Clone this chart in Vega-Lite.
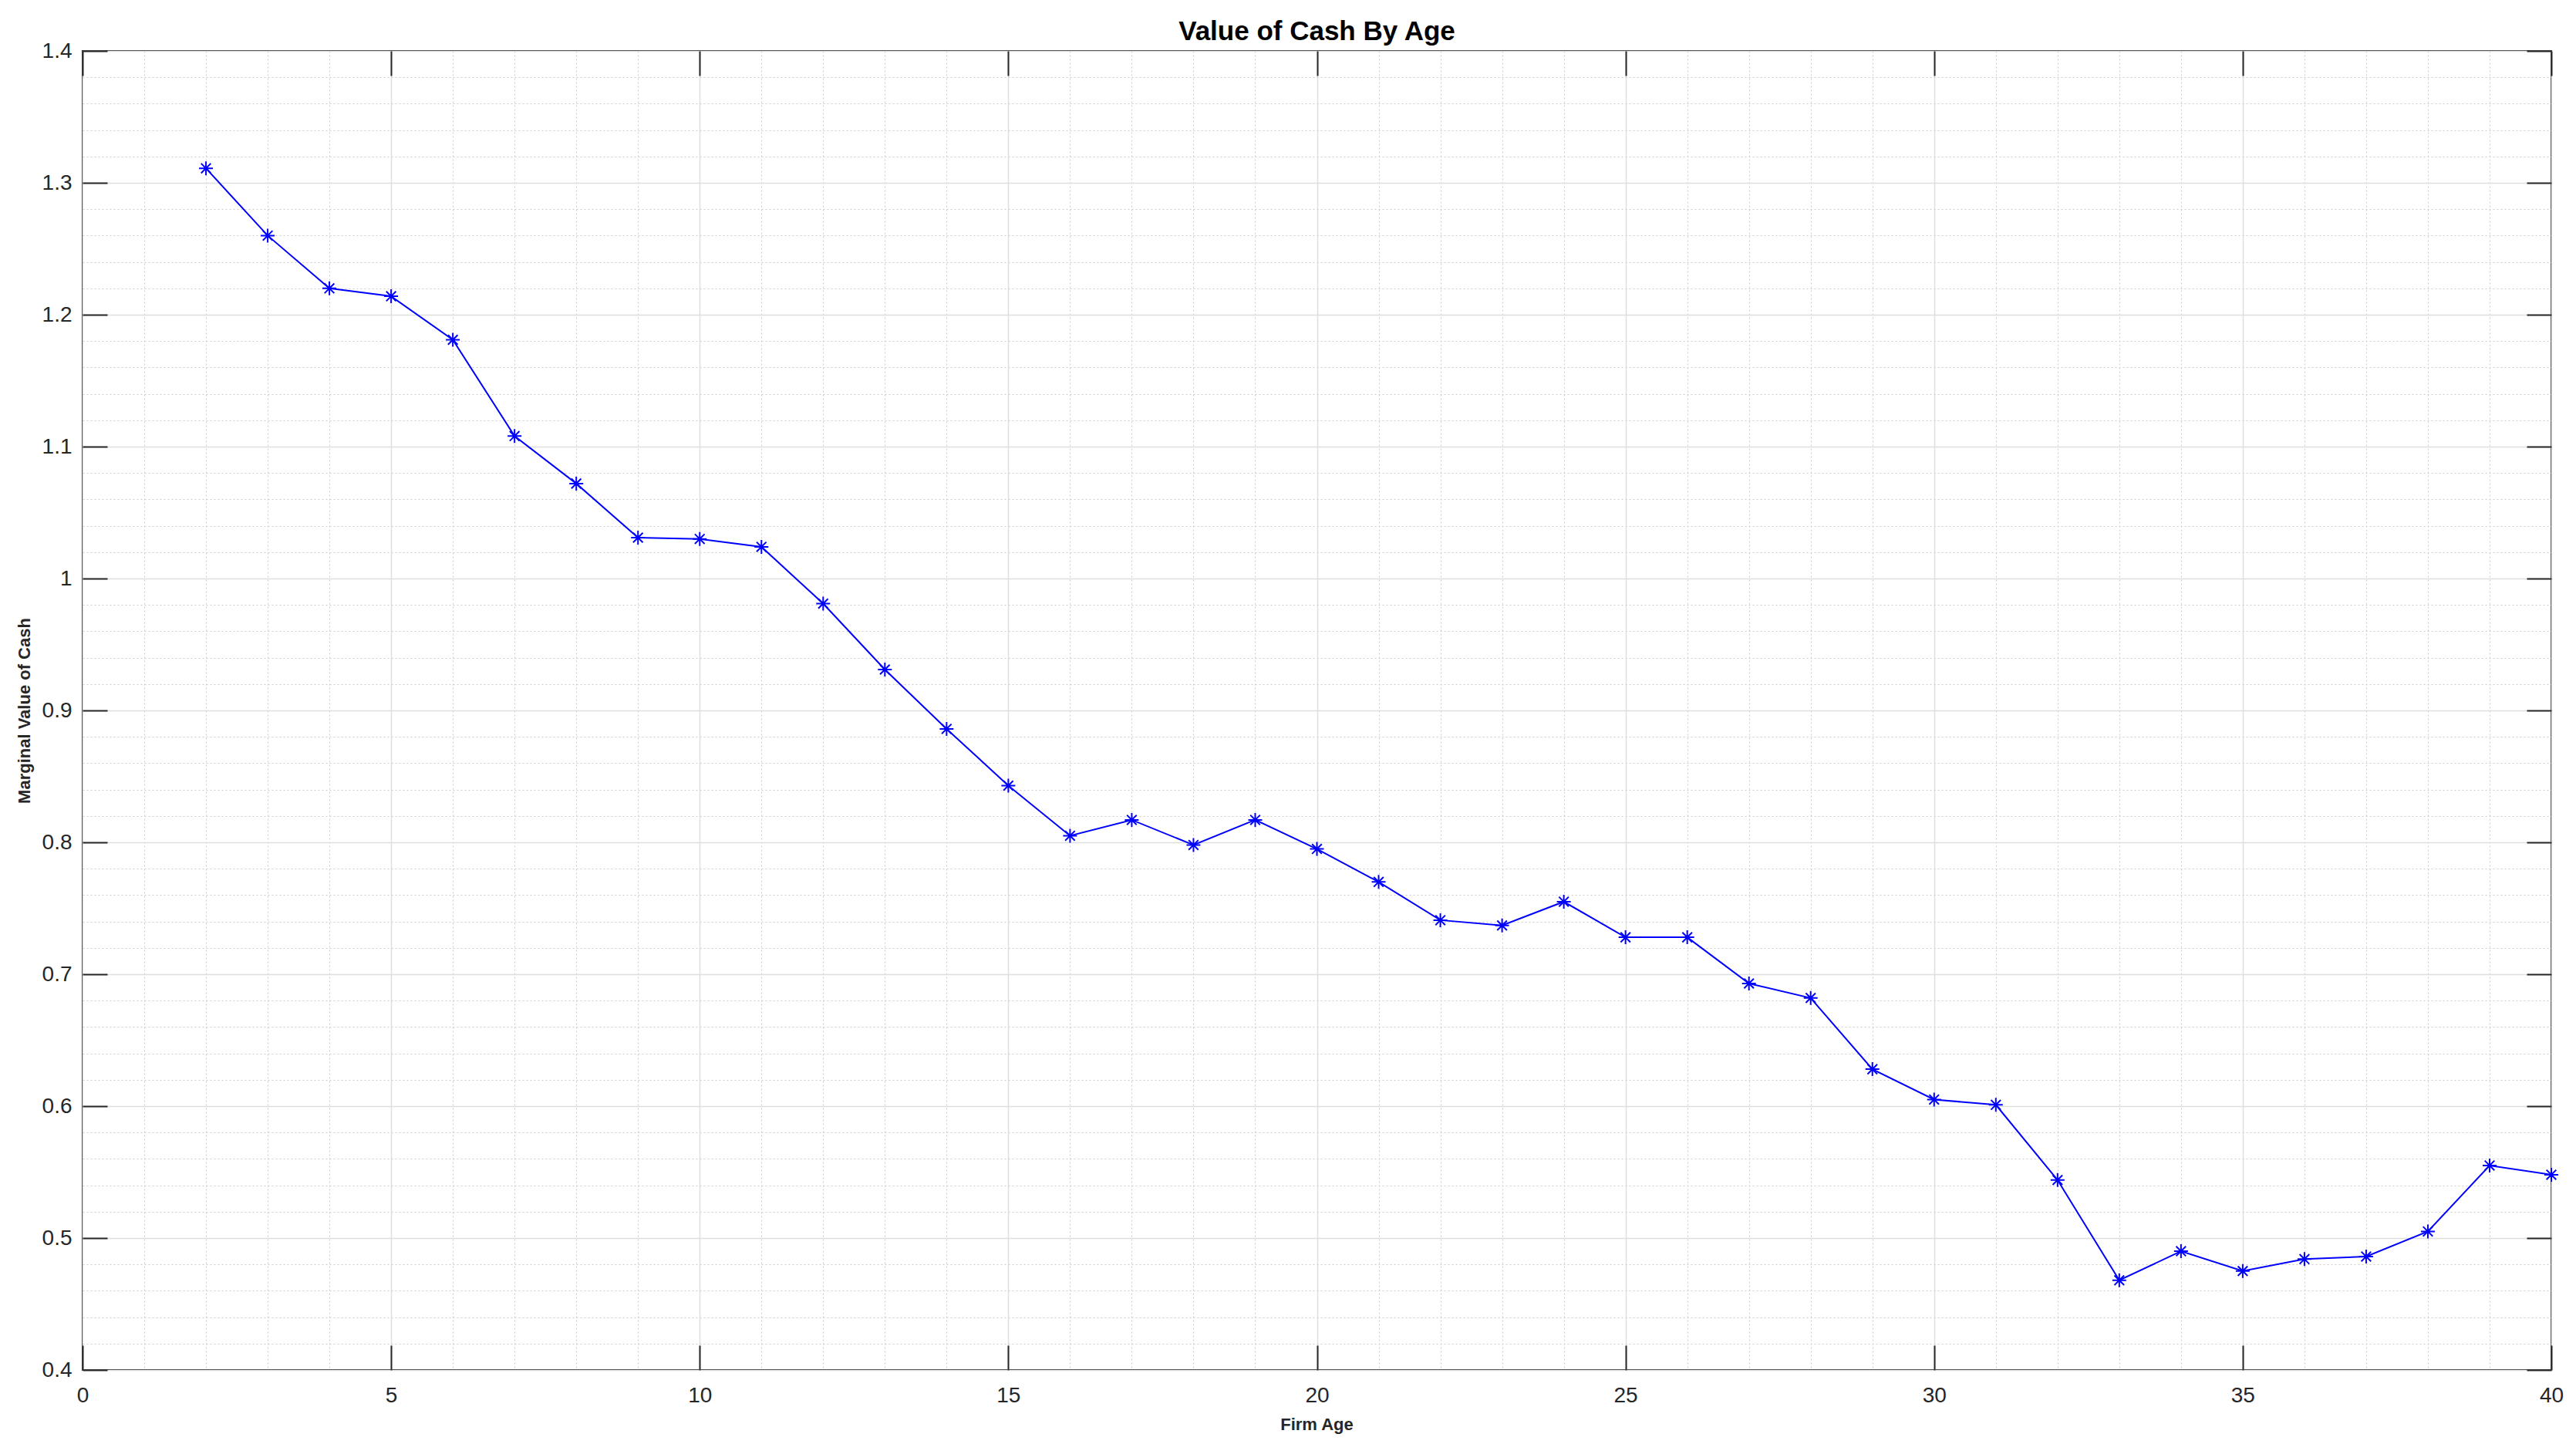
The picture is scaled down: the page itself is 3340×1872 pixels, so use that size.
{
  "$schema": "https://vega.github.io/schema/vega-lite/v6.json",
  "width": 3201,
  "height": 1710,
  "autosize": {"type": "none"},
  "padding": {"left": 107, "top": 66, "right": 32, "bottom": 96},
  "background": "white",
  "title": {"text": "Value of Cash By Age", "fontSize": 35, "font": "Liberation Sans", "fontWeight": "bold", "color": "#000000", "baseline": "alphabetic", "offset": -35, "anchor": "middle"},
  "config": {
    "view": {"stroke": "#262626", "strokeWidth": 2},
    "axis": {"labelFont": "Liberation Sans", "labelFontSize": 28, "labelColor": "#262626", "titleFont": "Liberation Sans", "titleFontSize": 22, "titleFontWeight": "bold", "titleColor": "#262626", "tickColor": "#262626", "tickWidth": 2, "domain": false, "labelFlush": false, "labelOverlap": false}
  },
  "data": {"values": [
    {"age": 2, "value": 1.311}, {"age": 3, "value": 1.260}, {"age": 4, "value": 1.220}, {"age": 5, "value": 1.214},
    {"age": 6, "value": 1.181}, {"age": 7, "value": 1.108}, {"age": 8, "value": 1.072}, {"age": 9, "value": 1.031},
    {"age": 10, "value": 1.030}, {"age": 11, "value": 1.024}, {"age": 12, "value": 0.981}, {"age": 13, "value": 0.931},
    {"age": 14, "value": 0.886}, {"age": 15, "value": 0.843}, {"age": 16, "value": 0.805}, {"age": 17, "value": 0.817},
    {"age": 18, "value": 0.798}, {"age": 19, "value": 0.817}, {"age": 20, "value": 0.795}, {"age": 21, "value": 0.770},
    {"age": 22, "value": 0.741}, {"age": 23, "value": 0.737}, {"age": 24, "value": 0.755}, {"age": 25, "value": 0.728},
    {"age": 26, "value": 0.728}, {"age": 27, "value": 0.693}, {"age": 28, "value": 0.682}, {"age": 29, "value": 0.628},
    {"age": 30, "value": 0.605}, {"age": 31, "value": 0.601}, {"age": 32, "value": 0.544}, {"age": 33, "value": 0.468},
    {"age": 34, "value": 0.490}, {"age": 35, "value": 0.475}, {"age": 36, "value": 0.484}, {"age": 37, "value": 0.486},
    {"age": 38, "value": 0.505}, {"age": 39, "value": 0.555}, {"age": 40, "value": 0.548}
  ]},
  "layer": [
    {
      "mark": {"type": "point", "opacity": 0},
      "encoding": {
        "x": {"field": "age", "type": "quantitative", "scale": {"domain": [0, 40], "nice": false, "zero": false},
          "axis": {"orient": "bottom", "title": null, "labels": false, "ticks": false, "grid": true, "gridColor": "#cccccc", "gridDash": [2, 3], "gridWidth": 1,
            "values": [1,2,3,4,6,7,8,9,11,12,13,14,16,17,18,19,21,22,23,24,26,27,28,29,31,32,33,34,36,37,38,39]}},
        "y": {"field": "value", "type": "quantitative", "scale": {"domain": [0.4, 1.4], "nice": false, "zero": false},
          "axis": {"orient": "left", "title": null, "labels": false, "ticks": false, "grid": true, "gridColor": "#cccccc", "gridDash": [2, 3], "gridWidth": 1,
            "values": [0.42,0.44,0.46,0.48,0.52,0.54,0.56,0.58,0.62,0.64,0.66,0.68,0.72,0.74,0.76,0.78,0.82,0.84,0.86,0.88,0.92,0.94,0.96,0.98,1.02,1.04,1.06,1.08,1.12,1.14,1.16,1.18,1.22,1.24,1.26,1.28,1.32,1.34,1.36,1.38]}}
      }
    },
    {
      "mark": {"type": "point", "opacity": 0},
      "encoding": {
        "x": {"field": "age", "type": "quantitative",
          "axis": {"orient": "top", "title": null, "labels": false, "grid": false, "tickSize": -32, "values": [0,5,10,15,20,25,30,35,40]}},
        "y": {"field": "value", "type": "quantitative",
          "axis": {"orient": "right", "title": null, "labels": false, "grid": false, "tickSize": -32, "values": [0.4,0.5,0.6,0.7,0.8,0.9,1,1.1,1.2,1.3,1.4]}}
      }
    },
    {
      "mark": {"type": "line", "color": "#0000ff", "strokeWidth": 2},
      "encoding": {
        "x": {"field": "age", "type": "quantitative",
          "axis": {"orient": "bottom", "title": "Firm Age", "grid": true, "gridColor": "#dedede", "gridWidth": 1.5, "tickSize": -32, "labelPadding": 51, "format": "~g",
            "values": [0,5,10,15,20,25,30,35,40], "titleX": 1600, "titleY": 77, "titleBaseline": "alphabetic"}},
        "y": {"field": "value", "type": "quantitative",
          "axis": {"orient": "left", "title": "Marginal Value of Cash", "grid": true, "gridColor": "#dedede", "gridWidth": 1.5, "tickSize": -32, "labelPadding": 46, "format": "~g",
            "values": [0.4,0.5,0.6,0.7,0.8,0.9,1,1.1,1.2,1.3,1.4], "titleX": -69, "titleY": 855, "titleAngle": -90, "titleBaseline": "alphabetic"}}
      }
    },
    {
      "mark": {"type": "point", "shape": "M0,-1L0,1M-1,0L1,0M-0.7,-0.7L0.7,0.7M-0.7,0.7L0.7,-0.7", "size": 324, "filled": false, "stroke": "#0000ff", "strokeWidth": 2, "opacity": 1},
      "encoding": {
        "x": {"field": "age", "type": "quantitative", "axis": null},
        "y": {"field": "value", "type": "quantitative", "axis": null}
      }
    }
  ],
  "resolve": {"axis": {"x": "independent", "y": "independent"}}
}
